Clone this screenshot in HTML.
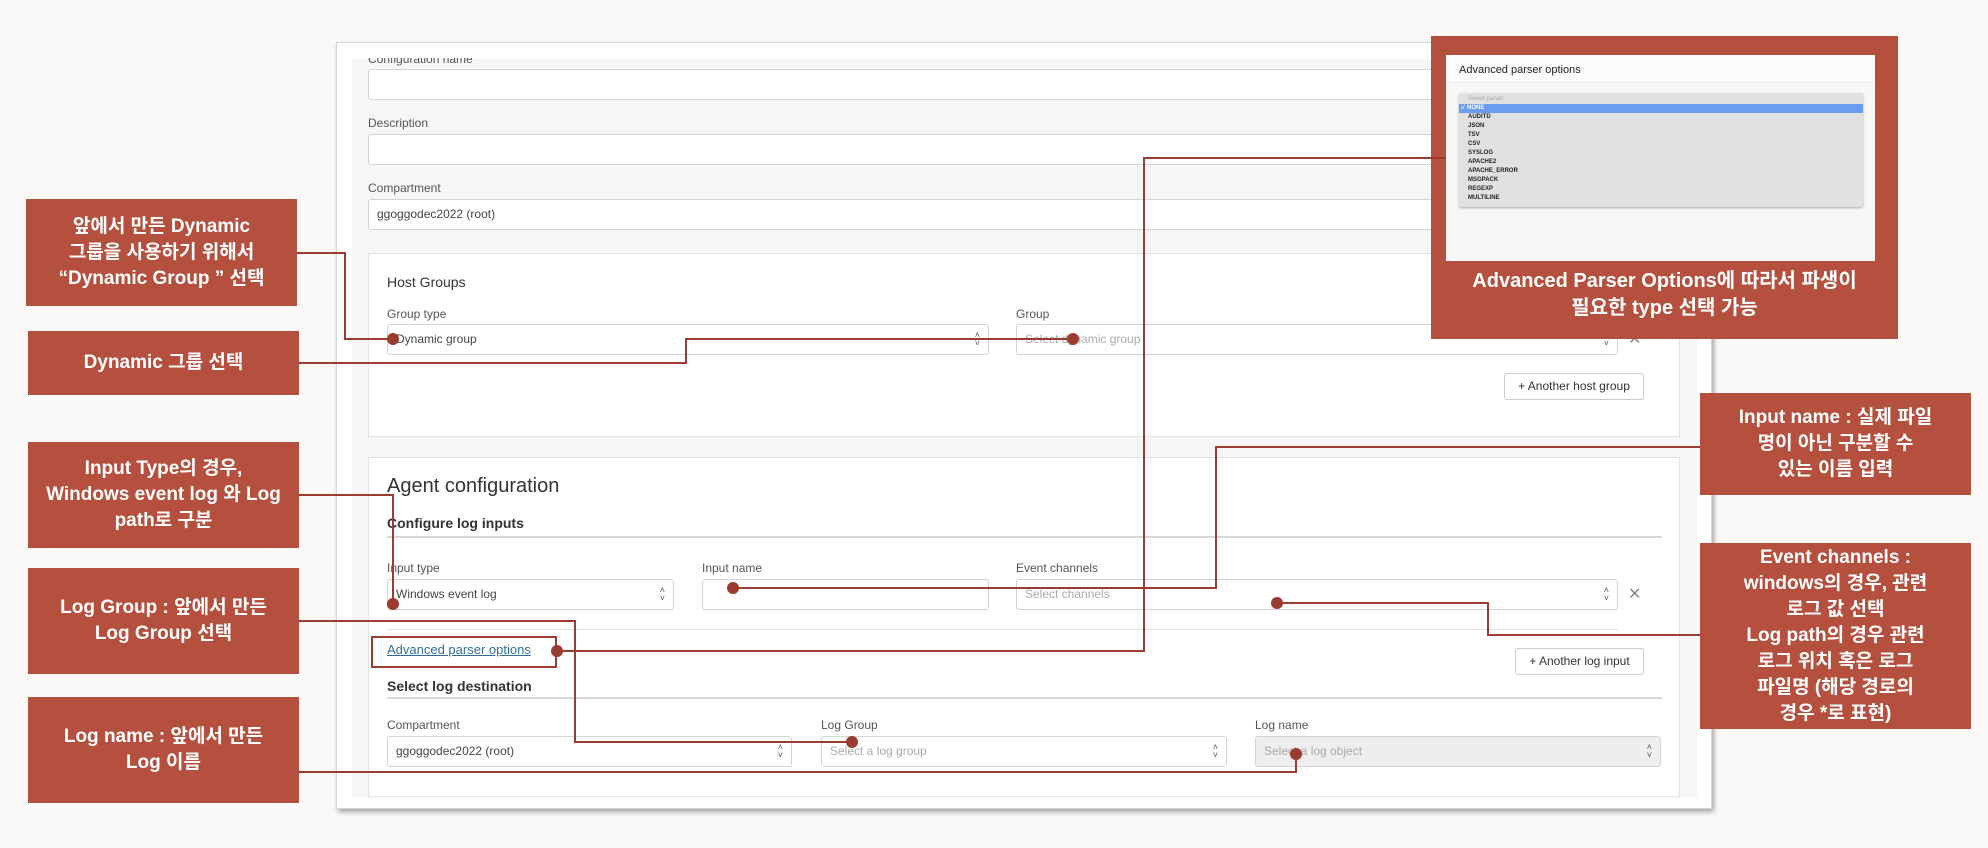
<!DOCTYPE html>
<html><head><meta charset="utf-8">
<style>
*{box-sizing:border-box;margin:0;padding:0}
body{width:1988px;height:848px;background:#faf9f7;position:relative;overflow:hidden;font-family:"Liberation Sans","Noto Sans CJK KR",sans-serif;}
.abs{position:absolute}
.panel{left:336px;top:42px;width:1376px;height:767px;background:#fff;border:1px solid #d6d6d6;box-shadow:2px 3px 5px rgba(0,0,0,.35)}
.grey{left:352px;top:59px;width:1345px;height:738px;background:#f6f6f6}
.lbl{font-size:12px;color:#555}
.inp{background:#fff;border:1px solid #d4d4d4;border-radius:3px;height:31px;font-size:12px;color:#444;padding-left:8px;line-height:29px}
.ph{color:#aaa}
.card{background:#fff;border:1px solid #e2e2e2}
.arr{position:absolute;right:8px;top:6px;font-size:9px;line-height:8px;color:#555;text-align:center}
.btn{background:#fff;border:1px solid #ccc;border-radius:3px;font-size:12px;color:#333;text-align:center}
.rbox{background:#b5503f;color:#fff;font-family:"Liberation Sans","Noto Sans CJK KR",sans-serif;font-weight:bold;font-size:19px;line-height:26px;text-align:center;display:flex;flex-direction:column;justify-content:center;align-items:center}
.h{font-weight:bold;font-size:14px;color:#333}
.rule{height:2px;background:#d8d8d8}
.x{font-size:16px;color:#888}
.li{font-size:6px;line-height:9px;padding-left:9px;color:#222;font-weight:bold}
</style></head><body>

<div class="abs panel"></div>
<div class="abs grey"></div>

<div class="abs lbl" style="left:368px;top:52px">Configuration name</div>
<div class="abs" style="left:337px;top:43px;width:1374px;height:15px;background:#fff"></div>
<div class="abs inp" style="left:368px;top:69px;width:1320px"></div>
<div class="abs lbl" style="left:368px;top:116px">Description</div>
<div class="abs inp" style="left:368px;top:134px;width:1320px"></div>
<div class="abs lbl" style="left:368px;top:181px">Compartment</div>
<div class="abs inp" style="left:368px;top:199px;width:1320px">ggoggodec2022 (root)</div>

<div class="abs card" style="left:368px;top:253px;width:1312px;height:184px"></div>
<div class="abs" style="left:387px;top:274px;font-size:14px;color:#333">Host Groups</div>
<div class="abs lbl" style="left:387px;top:307px">Group type</div>
<div class="abs inp" style="left:387px;top:324px;width:602px">Dynamic group<div class="arr">˄<br>˅</div></div>
<div class="abs lbl" style="left:1016px;top:307px">Group</div>
<div class="abs inp ph" style="left:1016px;top:324px;width:602px">Select dynamic group<div class="arr">˄<br>˅</div></div>
<div class="abs x" style="left:1628px;top:329px">✕</div>
<div class="abs btn" style="left:1504px;top:373px;width:140px;height:27px;line-height:25px">+ Another host group</div>

<div class="abs card" style="left:368px;top:457px;width:1312px;height:340px"></div>
<div class="abs" style="left:387px;top:475px;font-size:20px;color:#333">Agent configuration</div>
<div class="abs h" style="left:387px;top:515px">Configure log inputs</div>
<div class="abs rule" style="left:387px;top:536px;width:1275px"></div>
<div class="abs lbl" style="left:387px;top:561px">Input type</div>
<div class="abs inp" style="left:387px;top:579px;width:287px">Windows event log<div class="arr">˄<br>˅</div></div>
<div class="abs lbl" style="left:702px;top:561px">Input name</div>
<div class="abs inp" style="left:702px;top:579px;width:287px"></div>
<div class="abs lbl" style="left:1016px;top:561px">Event channels</div>
<div class="abs inp ph" style="left:1016px;top:579px;width:602px">Select channels<div class="arr">˄<br>˅</div></div>
<div class="abs x" style="left:1628px;top:584px">✕</div>
<div class="abs" style="left:387px;top:629px;width:1231px;height:1px;background:#e0e0e0"></div>
<div class="abs" style="left:387px;top:642px;font-size:13px;color:#2f6f9f;text-decoration:underline">Advanced parser options</div>
<div class="abs" style="left:371px;top:636px;width:186px;height:32px;border:2px solid #9c3b2f"></div>
<div class="abs btn" style="left:1515px;top:648px;width:129px;height:27px;line-height:25px">+ Another log input</div>
<div class="abs h" style="left:387px;top:678px">Select log destination</div>
<div class="abs rule" style="left:387px;top:697px;width:1275px"></div>
<div class="abs lbl" style="left:387px;top:718px">Compartment</div>
<div class="abs inp" style="left:387px;top:736px;width:405px">ggoggodec2022 (root)<div class="arr">˄<br>˅</div></div>
<div class="abs lbl" style="left:821px;top:718px">Log Group</div>
<div class="abs inp ph" style="left:821px;top:736px;width:406px">Select a log group<div class="arr">˄<br>˅</div></div>
<div class="abs lbl" style="left:1255px;top:718px">Log name</div>
<div class="abs inp ph" style="left:1255px;top:736px;width:406px;background:#eee">Select a log object<div class="arr">˄<br>˅</div></div>

<!-- top right red box -->
<div class="abs" style="left:1431px;top:36px;width:467px;height:303px;background:#b5503f"></div>
<div class="abs" style="left:1446px;top:55px;width:429px;height:206px;background:#f7f7f7">
  <div style="height:28px;background:#fbfbfb;border-bottom:1px solid #ececec;font-size:11px;color:#222;padding:9px 0 0 13px">Advanced parser options</div>
  <div style="position:absolute;left:13px;top:38px;width:404px;height:114px;background:#e1e1e1;border-radius:2px;box-shadow:0 1px 2px rgba(0,0,0,.3);padding-top:2px">
    <div class="li" style="color:#aaa;font-weight:normal">Select parser</div>
    <div class="li" style="background:#6a9cf2;color:#fff;padding-left:2px">✓ NONE</div>
    <div class="li">AUDITD</div><div class="li">JSON</div><div class="li">TSV</div><div class="li">CSV</div><div class="li">SYSLOG</div><div class="li">APACHE2</div><div class="li">APACHE_ERROR</div><div class="li">MSGPACK</div><div class="li">REGEXP</div><div class="li">MULTILINE</div>
  </div>
</div>
<div class="abs rbox" style="left:1431px;top:265px;width:467px;height:60px;font-size:20px;line-height:27px;background:none">Advanced Parser Options에 따라서 파생이<br>필요한 type 선택 가능</div>

<!-- left boxes -->
<div class="abs rbox" style="left:26px;top:199px;width:271px;height:107px">앞에서 만든 Dynamic<br>그룹을 사용하기 위해서<br>“Dynamic Group ” 선택</div>
<div class="abs rbox" style="left:28px;top:331px;width:271px;height:64px">Dynamic 그룹 선택</div>
<div class="abs rbox" style="left:28px;top:442px;width:271px;height:106px">Input Type의 경우,<br>Windows event log 와 Log<br>path로 구분</div>
<div class="abs rbox" style="left:28px;top:568px;width:271px;height:106px">Log Group : 앞에서 만든<br>Log Group 선택</div>
<div class="abs rbox" style="left:28px;top:697px;width:271px;height:106px">Log name : 앞에서 만든<br>Log 이름</div>

<!-- right boxes -->
<div class="abs rbox" style="left:1700px;top:393px;width:271px;height:102px">Input name :  실제 파일<br>명이 아닌 구분할 수<br>있는 이름 입력</div>
<div class="abs rbox" style="left:1700px;top:543px;width:271px;height:186px">Event channels :<br>windows의 경우, 관련<br>로그 값 선택<br>Log path의 경우 관련<br>로그 위치 혹은 로그<br>파일명 (해당 경로의<br>경우 *로 표현)</div>

<svg class="abs" style="left:0;top:0" width="1988" height="848">
<g fill="none" stroke="#9c3b2f" stroke-width="2">
<polyline points="297,253 345,253 345,339 393,339"/>
<polyline points="299,363 686,363 686,339 1073,339"/>
<polyline points="1446,158 1144,158 1144,651 557,651"/>
<polyline points="299,495 393,495 393,604"/>
<polyline points="1700,447 1216,447 1216,588 733,588"/>
<polyline points="1700,635 1488,635 1488,603 1277,603"/>
<polyline points="299,621 575,621 575,742 852,742"/>
<polyline points="299,772 1296,772 1296,754"/>
</g>
<g fill="#9c3b2f">
<circle cx="393" cy="339" r="6"/><circle cx="1073" cy="339" r="6"/><circle cx="557" cy="651" r="6"/>
<circle cx="393" cy="604" r="6"/><circle cx="733" cy="588" r="6"/><circle cx="1277" cy="603" r="6"/>
<circle cx="852" cy="742" r="6"/><circle cx="1296" cy="754" r="6"/>
</g>
</svg>
</body></html>
